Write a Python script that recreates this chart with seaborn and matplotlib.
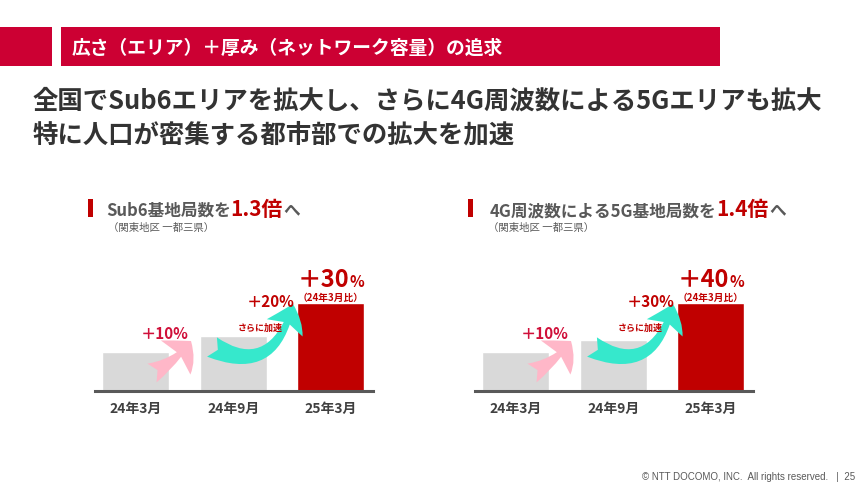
import matplotlib
matplotlib.use("Agg")
import matplotlib.pyplot as plt
import seaborn as sns
import pandas as pd
from matplotlib.patches import Rectangle, FancyArrowPatch

# data
months = ["24年3月", "24年9月", "25年3月"]
sub6_vals = [100, 110, 130]
nr4g_vals = [100, 110, 140]
sub6_steps = ["＋10%", "＋20%", "＋30"]
nr4g_steps = ["＋10%", "＋30%", "＋40"]
panel_titles = [("Sub6基地局数を", "1.3倍", "へ"), ("4G周波数による5G基地局数を", "1.4倍", "へ")]
header = "広さ（エリア）＋厚み（ネットワーク容量）の追求"
lead = ["全国でSub6エリアを拡大し、さらに4G周波数による5Gエリアも拡大",
        "特に人口が密集する都市部での拡大を加速"]

RED = "#c00000"
GRAY_BAR = "#d9d9d9"
TXT = "#595959"

sns.set_theme(style="white")
plt.rcParams["font.family"] = ["Noto Sans CJK JP", "DejaVu Sans"]

W, H = 860, 485
fig = plt.figure(figsize=(W / 100, H / 100), dpi=100)


def fig_box(x0, y_bottom, w, h):
    return [x0 / W, (H - y_bottom) / H, w / W, h / H]


# bar panels: (values, ylim, left pixel)
panels = [(sub6_vals, (76.1, 163.1), 95), (nr4g_vals, (68.2, 184.1), 475)]
for vals, ylim, left in panels:
    ax = fig.add_axes(fig_box(left, 392, 278, 142))
    df = pd.DataFrame({"month": months, "value": vals})
    sns.barplot(data=df, x="month", y="value", hue="month",
                palette=[GRAY_BAR, GRAY_BAR, RED], width=0.685,
                legend=False, ax=ax, saturation=1)
    ax.set_xlim(-0.414, 2.43)
    ax.set_ylim(*ylim)
    ax.set_facecolor("none")
    for s in ["top", "right", "left"]:
        ax.spines[s].set_visible(False)
    ax.spines["bottom"].set_color("#595959")
    ax.spines["bottom"].set_linewidth(2.2)
    ax.set_yticks([])
    ax.set_xlabel("")
    ax.set_ylabel("")
    ax.tick_params(axis="x", length=0, pad=7)
    for lab in ax.get_xticklabels():
        lab.set_fontsize(10)
        lab.set_fontweight("bold")
        lab.set_color("#404040")

# overlay for header, texts and arrows
ov = fig.add_axes([0, 0, 1, 1])
ov.set_xlim(0, W)
ov.set_ylim(H, 0)
ov.axis("off")
ov.set_facecolor("none")
renderer = fig.canvas.get_renderer()


def runs(x, y, parts, ha="left"):
    texts = []
    for txt, size, color in parts:
        t = ov.text(0, y, txt, fontsize=size, color=color, fontweight="bold", va="baseline")
        texts.append(t)
    widths = [t.get_window_extent(renderer).width for t in texts]
    total = sum(widths)
    cx = x - total / 2 if ha == "center" else x
    for t, w in zip(texts, widths):
        t.set_x(cx)
        cx += w


# header bar
ov.add_patch(Rectangle((0, 28), 52, 39, color="#cc0033", lw=0))
ov.add_patch(Rectangle((61, 28), 659, 39, color="#cc0033", lw=0))
ov.text(72, 48, header, fontsize=13.5, color="white", fontweight="bold", va="center")

ov.text(33, 101, lead[0], fontsize=18.3, color="#333333", fontweight="bold", va="center")
ov.text(33, 135, lead[1], fontsize=18.3, color="#333333", fontweight="bold", va="center")

for i, (steps, (t1, t2, t3)) in enumerate(zip([sub6_steps, nr4g_steps], panel_titles)):
    off = i * 380
    ov.add_patch(Rectangle((88 + off, 200), 5, 18, color=RED, lw=0))
    runs(106 + off + i * 4, 216, [(t1, 12, TXT), (t2, 15, RED), (t3, 12, TXT)])
    ov.text(108 + off, 228, "（関東地区 一都三県）", fontsize=7.5, color=TXT, va="center")

    # arrows
    ov.add_patch(FancyArrowPatch((152 + off, 374), (191 + off, 342),
                                 connectionstyle="arc3,rad=0.12",
                                 arrowstyle="fancy,head_length=0.65,head_width=1.3,tail_width=0.6",
                                 mutation_scale=25, color="#ffb7c8", lw=0,
                                 shrinkA=0, shrinkB=0, zorder=3))
    ov.add_patch(FancyArrowPatch((212 + off, 348), (293 + off, 305),
                                 connectionstyle="angle3,angleA=-27,angleB=-104",
                                 arrowstyle="fancy,head_length=0.7,head_width=1.1,tail_width=0.6",
                                 mutation_scale=26, color="#36e8cc", lw=0,
                                 shrinkA=0, shrinkB=0, zorder=3))

    runs(165 + off, 339, [(steps[0], 11, "#d0103a")], ha="center")
    runs(271 + off, 307, [(steps[1], 11, RED)], ha="center")
    ov.text(260 + off, 328, "さらに加速", fontsize=6.5, color=RED, fontweight="bold",
            ha="center", va="center", zorder=4)
    runs(331 + off, 287, [(steps[2], 17, RED), ("%", 11, RED)], ha="center")
    ov.text(331 + off, 298, "（24年3月比）", fontsize=7, color=RED, fontweight="bold",
            ha="center", va="center")

ov.text(855, 477, "© NTT DOCOMO, INC.  All rights reserved.   |  25", fontsize=7,
        color="#595959", ha="right", va="center", family=["Liberation Sans", "DejaVu Sans"])

fig.savefig("out.png", dpi=100)
